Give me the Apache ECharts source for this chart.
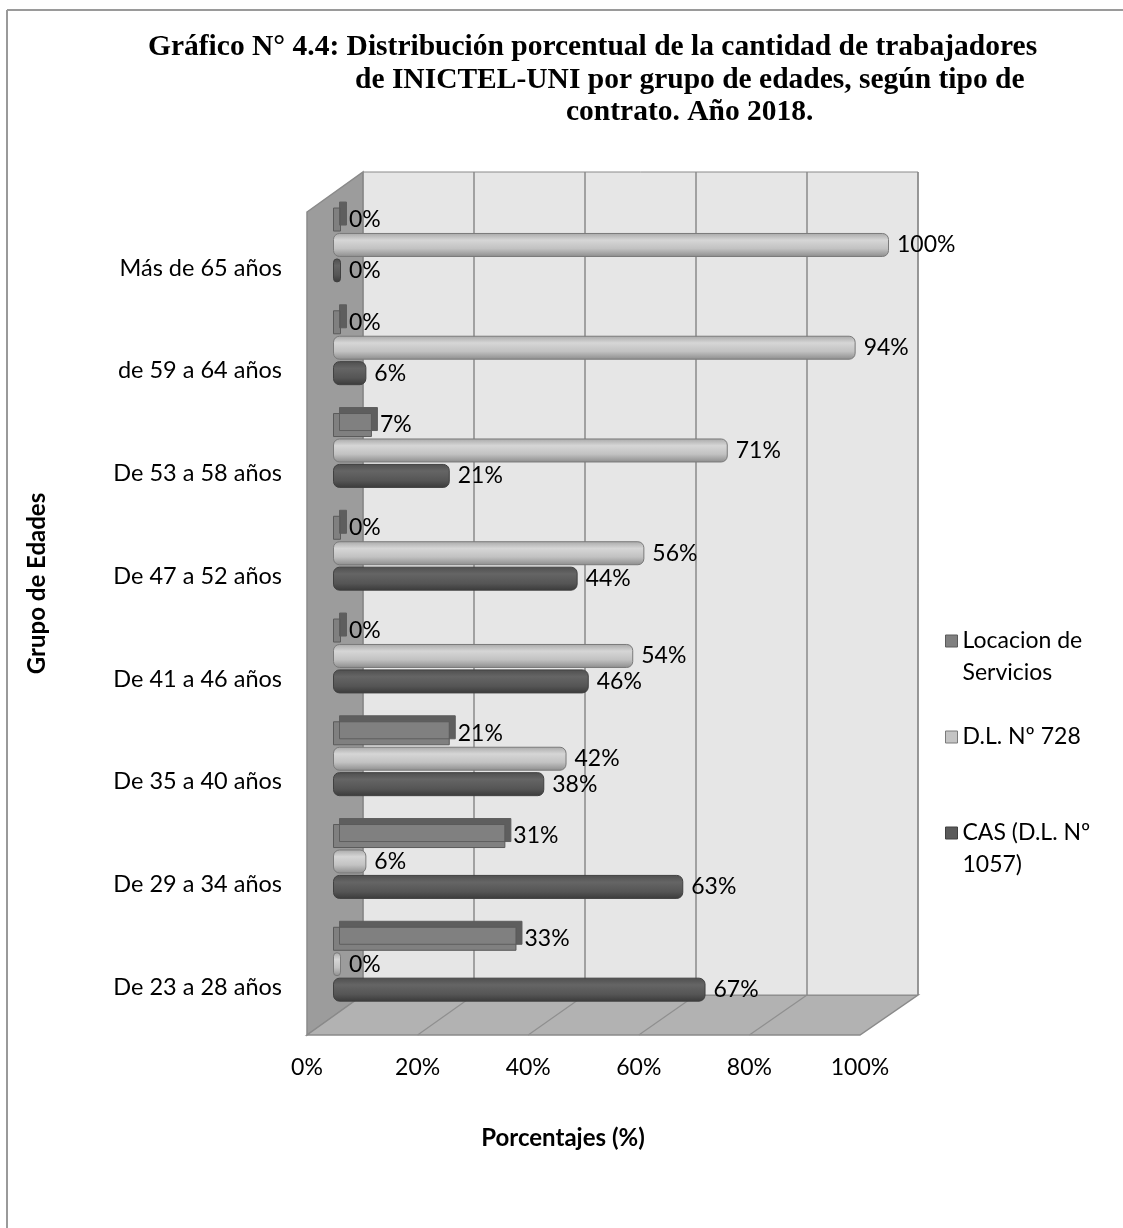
<!DOCTYPE html>
<html><head><meta charset="utf-8">
<script src="https://cdn.jsdelivr.net/npm/echarts@6/dist/echarts.min.js"></script>
<style>html,body{margin:0;padding:0;background:#fff}#c{width:1123px;height:1228px}</style>
</head><body><div id="c"></div>
<script>
const categories = ['De 23 a 28 años','De 29 a 34 años','De 35 a 40 años','De 41 a 46 años','De 47 a 52 años','De 53 a 58 años','de 59 a 64 años','Más de 65 años'];
const locacion = [33,31,21,0,0,7,0,0];
const dl728 = [0,6,42,54,56,71,94,100];
const cas = [67,63,38,46,44,21,6,0];
const seriesNames = ['Locacion de Servicios','D.L. Nº 728','CAS (D.L. Nº 1057)'];
const legendLabels = {'Locacion de Servicios':'\u00a0\nLocacion de\nServicios','D.L. Nº 728':'D.L. Nº 728','CAS (D.L. Nº 1057)':'\u00a0\nCAS (D.L. Nº\n1057)'};
const xTickMin = 0, xTickMax = 100, xTickStep = 20;
const titleLines = ['Gráfico N° 4.4: Distribución porcentual de la cantidad de trabajadores','de INICTEL-UNI por grupo de edades, según tipo de','contrato. Año 2018.'];

const sans = 'Lato';
const fs = 23;
const chart = echarts.init(document.getElementById('c'));

// 3D-like decorations (walls / floor)
const BW = {l:363, r:918, t:172, b:995}; // back wall
const FR = {l:307, r:860, b:1035};      // front edge
const deco = [];
deco.push({type:'polygon', z:-5, shape:{points:[[FR.l,BW.t+40],[BW.l,BW.t],[BW.l,BW.b],[FR.l,FR.b]]}, style:{fill:'#9c9c9c', stroke:'#8a8a8a', lineWidth:1.5}});
deco.push({type:'polygon', z:-5, shape:{points:[[FR.l,FR.b],[BW.l,BW.b],[BW.r,BW.b],[FR.r,FR.b]]}, style:{fill:'#b2b2b2', stroke:'#8a8a8a', lineWidth:1.5}});
for (let k=1;k<5;k++){
  const xb = BW.l + (BW.r-BW.l)*k/5, xf = FR.l + (FR.r-FR.l)*k/5;
  deco.push({type:'line', z:-4, shape:{x1:xb,y1:BW.b,x2:xf,y2:FR.b}, style:{stroke:'#8f8f8f', lineWidth:1.2}});
}
deco.push({type:'line', z:-4, shape:{x1:7,y1:10,x2:1123,y2:10}, style:{stroke:'#9a9a9a', lineWidth:2}});
deco.push({type:'line', z:-4, shape:{x1:7,y1:10,x2:7,y2:1228}, style:{stroke:'#9a9a9a', lineWidth:2}});

const lblStyle = {show:true, position:'right', distance:8, formatter:'{c}%', fontFamily:sans, fontSize:fs, color:'#000'};

const titleStyle = {fontFamily:'Liberation Serif', fontWeight:'bold', fontSize:29.5, color:'#000', lineHeight:33};

chart.setOption({
  animation:false,
  backgroundColor:'#fff',
  title:[
    {text:titleLines[0], left:148, top:31, padding:0, textStyle:titleStyle},
    {text:titleLines[1], left:355, top:64, padding:0, textStyle:titleStyle},
    {text:titleLines[2], left:566, top:96, padding:0, textStyle:titleStyle},
    {text:'Porcentajes (%)', left:563, textAlign:'center', top:1126, padding:0, textStyle:{fontFamily:sans, fontWeight:'bold', fontSize:24, color:'#000'}}
  ],
  graphic: deco,
  legend:{
    orient:'vertical', left:940, top:588, itemGap:32, itemWidth:12, itemHeight:12,
    icon:'rect',
    textStyle:{fontFamily:sans, fontSize:fs, color:'#000', lineHeight:32},
    formatter: n => legendLabels[n],
    data:[
      {name:seriesNames[0], itemStyle:{color:'#808080', borderColor:'#5a5a5a', borderWidth:1, shadowBlur:0, shadowOffsetX:0, shadowOffsetY:0, shadowColor:'rgba(0,0,0,0)'}},
      {name:seriesNames[1], itemStyle:{color:'#c4c4c4', borderColor:'#7a7a7a', borderWidth:1}},
      {name:seriesNames[2], itemStyle:{color:'#5a5a5a', borderColor:'#404040', borderWidth:1}}
    ]
  },
  grid:[
    {left:333, width:556, top:193.6, height:822, containLabel:false},
    {left:BW.l, width:BW.r-BW.l, top:BW.t, height:BW.b-BW.t, show:true, backgroundColor:'#e6e6e6', borderColor:'#8a8a8a', borderWidth:1},
    {left:FR.l, width:FR.r-FR.l, top:1000, height:35}
  ],
  xAxis:[
    {gridIndex:0, type:'value', min:xTickMin, max:xTickMax, interval:xTickStep, show:false},
    {gridIndex:1, type:'value', min:xTickMin, max:xTickMax, interval:xTickStep, axisLine:{show:false}, axisTick:{show:false}, axisLabel:{show:false},
      splitLine:{show:true, lineStyle:{color:'#8a8a8a', width:1.5}}},
    {gridIndex:2, type:'value', min:xTickMin, max:xTickMax, interval:xTickStep, axisLine:{show:false}, axisTick:{show:false}, splitLine:{show:false},
      axisLabel:{margin:21, formatter:'{value}%', fontFamily:sans, fontSize:fs, color:'#000'}}
  ],
  yAxis:[
    {gridIndex:0, type:'category', data:categories, axisLine:{show:false}, axisTick:{show:false},
      axisLabel:{margin:51, fontFamily:sans, fontSize:23.5, color:'#000', verticalAlign:'top', lineHeight:46}},
    {gridIndex:1, type:'value', axisLine:{show:false}, axisTick:{show:false}, axisLabel:{show:false}, splitLine:{show:false},
      name:'Grupo de Edades', nameLocation:'middle', nameGap:314, nameRotate:90,
      nameTextStyle:{fontFamily:sans, fontWeight:'bold', fontSize:24, color:'#000'}},
    {gridIndex:2, type:'value', show:false}
  ],
  series:[
    {name:seriesNames[0], type:'bar', xAxisIndex:0, yAxisIndex:0, data:locacion, barWidth:24, barGap:'6%', barMinHeight:8,
      itemStyle:{color:'#808080', borderColor:'#5a5a5a', borderWidth:1, shadowColor:'#5e5e5e', shadowOffsetX:6, shadowOffsetY:-6, shadowBlur:0},
      label:lblStyle},
    {name:seriesNames[1], type:'bar', xAxisIndex:0, yAxisIndex:0, data:dl728, barWidth:24, barGap:'6%', barMinHeight:8,
      itemStyle:{color:new echarts.graphic.LinearGradient(0,0,0,1,[{offset:0,color:'#a8a8a8'},{offset:0.3,color:'#d6d6d6'},{offset:0.65,color:'#c2c2c2'},{offset:1,color:'#8c8c8c'}]),
        borderColor:'#7a7a7a', borderWidth:1, borderRadius:[6,6,6,6]},
      label:lblStyle},
    {name:seriesNames[2], type:'bar', xAxisIndex:0, yAxisIndex:0, data:cas, barWidth:24, barGap:'6%', barMinHeight:8,
      itemStyle:{color:new echarts.graphic.LinearGradient(0,0,0,1,[{offset:0,color:'#4e4e4e'},{offset:0.3,color:'#656565'},{offset:0.7,color:'#555555'},{offset:1,color:'#3a3a3a'}]),
        borderColor:'#404040', borderWidth:1, borderRadius:[6,6,6,6]},
      label:lblStyle}
  ]
});
</script></body></html>
